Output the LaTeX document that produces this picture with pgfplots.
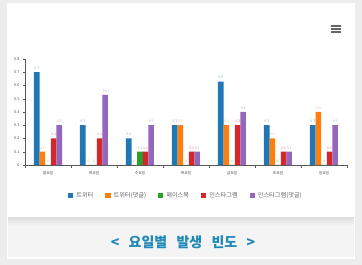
\documentclass[border=0pt]{standalone}
\usepackage{pgfplots}
\pgfplotsset{compat=1.18}
\usepackage{fontspec}
\setmainfont{Noto Sans CJK KR}
\definecolor{c1}{HTML}{1F77B4}
\definecolor{c2}{HTML}{FF7F0E}
\definecolor{c3}{HTML}{2CA02C}
\definecolor{c4}{HTML}{D62728}
\definecolor{c5}{HTML}{9467BD}
\definecolor{titleblue}{HTML}{1E88B8}
\begin{document}
\begin{tikzpicture}[x=1bp,y=1bp]
\fill[gray!14] (0,0) rectangle (362,265);
\fill[white] (7,6) rectangle (355,262);
\fill[gray!9] (8,8) rectangle (354,46);
\shade[top color=gray!25,bottom color=gray!9] (8,40) rectangle (354,47);
\draw[white,line width=1bp] (8,7.5) -- (354,7.5);
\node[font=\fontsize{14}{16}\selectfont\bfseries,text=titleblue] at (183,23) {<\;\, 요일별\;\, 발생\;\, 빈도\;\, >};
\foreach \yy in {239,236,233} \draw[gray!80!black,line width=1.3bp] (331,\yy) -- (341,\yy);
\begin{axis}[
  at={(25bp,100bp)}, anchor=south west,
  scale only axis, width=322bp, height=106bp,
  xmin=-0.5, xmax=6.5, ymin=0, ymax=0.8,
  ybar=0pt, bar width=5.6bp,
  axis lines=left, axis line style={-, gray!70!black, line width=0.4bp},
  xtick={0,...,6},
  xticklabels={월요일,화요일,수요일,목요일,금요일,토요일,일요일},
  major x tick style={draw=none},
  minor xtick={-0.5,0.5,1.5,2.5,3.5,4.5,5.5,6.5},
  minor tick length=3bp,
  minor x tick style={gray!70!black, line width=0.4bp},
  tick align=outside,
  ytick={0,0.1,...,0.8},
  major tick length=2bp,
  y tick style={gray!70!black, line width=0.4bp},
  yticklabel style={/pgf/number format/fixed,/pgf/number format/precision=1},
  ticklabel style={font=\fontsize{3.8}{4}\selectfont, text=black!70},
  /pgf/number format/assume math mode=true,
  xticklabel style={yshift=-1bp},
  nodes near coords,
  every node near coord/.append style={font=\fontsize{3.5}{4}\selectfont, yshift=-1bp, /pgf/number format/fixed,/pgf/number format/precision=1},
  legend columns=5,
  legend style={at={(0.5,-0.22)}, anchor=north, draw=none, fill=none,
    font=\fontsize{6.2}{7}\selectfont, text=black!60,
    /tikz/every odd column/.append style={column sep=1bp},
    /tikz/every even column/.append style={column sep=10bp}},
  legend image code/.code={\fill[#1] (0bp,-2.6bp) rectangle (5.2bp,2.6bp);},
  clip=false,
]
\addplot[fill=c1, draw=none, every node near coord/.append style={text=c1!60}] coordinates {(0,0.7) (1,0.3) (2,0.2) (3,0.3) (4,0.63) (5,0.3) (6,0.3)};
\addplot[fill=c2, draw=none, every node near coord/.append style={text=c2!60}] coordinates {(0,0.1) (1,0) (2,0) (3,0.3) (4,0.3) (5,0.2) (6,0.4)};
\addplot[fill=c3, draw=none, every node near coord/.append style={text=c3!60}] coordinates {(0,0) (1,0) (2,0.1) (3,0) (4,0) (5,0) (6,0)};
\addplot[fill=c4, draw=none, every node near coord/.append style={text=c4!60}] coordinates {(0,0.2) (1,0.2) (2,0.1) (3,0.1) (4,0.3) (5,0.1) (6,0.1)};
\addplot[fill=c5, draw=none, every node near coord/.append style={text=c5!60}] coordinates {(0,0.3) (1,0.53) (2,0.3) (3,0.1) (4,0.4) (5,0.1) (6,0.3)};
\legend{트위터,트위터(댓글),페이스북,인스타그램,인스타그램(댓글)}
\end{axis}
\end{tikzpicture}
\end{document}
